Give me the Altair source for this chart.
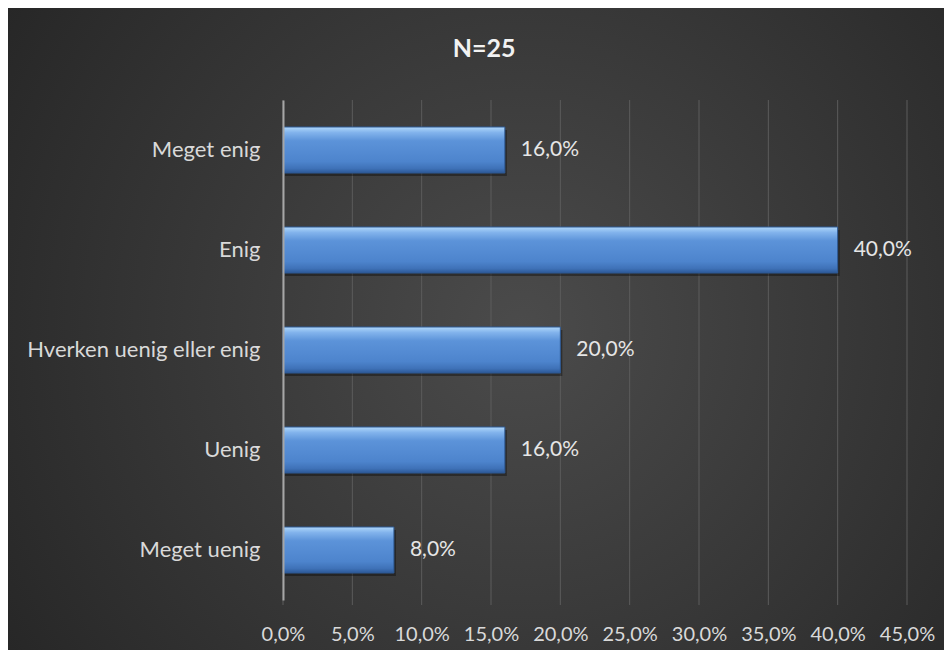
import altair as alt
import pandas as pd

categories = ["Meget enig", "Enig", "Hverken uenig eller enig", "Uenig", "Meget uenig"]
percent = [16.0, 40.0, 20.0, 16.0, 8.0]
tick_values = [0, 5, 10, 15, 20, 25, 30, 35, 40, 45]
title_text = "N=25"

df = pd.DataFrame({"cat": categories, "pct": percent})
ticks_df = pd.DataFrame({"v": tick_values})
title_df = pd.DataFrame({"t": [title_text]})

W, H = 624, 500
PL, PT, PR, PB = 275, 92, 37, 50

FONT = "Lato"

bg = alt.Chart(title_df).mark_rect(
    fill={
        "gradient": "radial",
        "x1": 0.55, "y1": 0.5, "r1": 0,
        "x2": 0.55, "y2": 0.5, "r2": 0.72,
        "stops": [
            {"offset": 0, "color": "#4b4b4b"},
            {"offset": 1, "color": "#232323"},
        ],
    },
    clip=False,
).encode(
    x=alt.value(-PL), x2=alt.value(W + PR),
    y=alt.value(-PT), y2=alt.value(H + PB),
)

x_scale = alt.Scale(domain=[0, 45], nice=False)
x_axis = alt.Axis(title=None, values=tick_values,
                  labelExpr="replace(format(datum.value, '.1f'), '.', ',') + '%'",
                  domain=False, grid=False, ticks=False,
                  labelColor="#d9d9d9", labelFont=FONT, labelFontSize=20,
                  labelPadding=24, labelOverlap=False, labelBound=False,
                  labelFlush=False, labelAlign="center", zindex=1)

grid = alt.Chart(ticks_df).mark_rule(color="#5c5c5c", strokeWidth=1).encode(
    x=alt.X("v:Q", scale=x_scale, axis=x_axis),
    y=alt.value(0), y2=alt.value(H + 5),
)

y_enc = alt.Y("cat:N", sort=categories,
              scale=alt.Scale(paddingInner=0.54, paddingOuter=0.27),
              axis=alt.Axis(title=None, ticks=False, domain=True, domainColor="#a6a6a6",
                            domainWidth=2, labelColor="#d9d9d9", labelFont=FONT,
                            labelFontSize=22, labelPadding=23, labelLimit=400,
                            grid=False, zindex=1))
x_enc = alt.X("pct:Q", scale=x_scale, axis=x_axis)

shadow = alt.Chart(df).mark_bar(color="#000000", opacity=0.35, xOffset=2, yOffset=3).encode(
    y=y_enc, x=x_enc)

bars = alt.Chart(df).mark_bar(
    fill={
        "gradient": "linear", "x1": 0, "y1": 0, "x2": 0, "y2": 1,
        "stops": [
            {"offset": 0, "color": "#b0d8fa"},
            {"offset": 0.12, "color": "#82b3ec"},
            {"offset": 0.3, "color": "#5c93d9"},
            {"offset": 0.75, "color": "#4d84cd"},
            {"offset": 0.9, "color": "#3f72b8"},
            {"offset": 1, "color": "#2c5897"},
        ],
    },
    stroke="#2e5a95", strokeWidth=1,
).encode(y=y_enc, x=x_enc)

labels = alt.Chart(df).transform_calculate(
    label="replace(format(datum.pct, '.1f'), '.', ',') + '%'"
).mark_text(align="left", baseline="middle", dx=16, color="#e6e6e6",
            font=FONT, fontSize=21).encode(
    y=alt.Y("cat:N", sort=categories), x="pct:Q", text="label:N")

title = alt.Chart(title_df).mark_text(
    align="center", baseline="alphabetic", font=FONT, fontSize=25, fontWeight="bold",
    color="#f2f2f2"
).encode(x=alt.value(201), y=alt.value(-43), text="t:N")

chart = alt.layer(bg, grid, shadow, bars, labels, title).properties(
    width=W, height=H,
    padding={"left": PL, "top": PT, "right": PR, "bottom": PB},
    autosize=alt.AutoSizeParams(type="none"),
    background="#262626",
).configure_view(stroke=None)

chart.save("out.html", embed_options={"renderer": "svg", "actions": False})
